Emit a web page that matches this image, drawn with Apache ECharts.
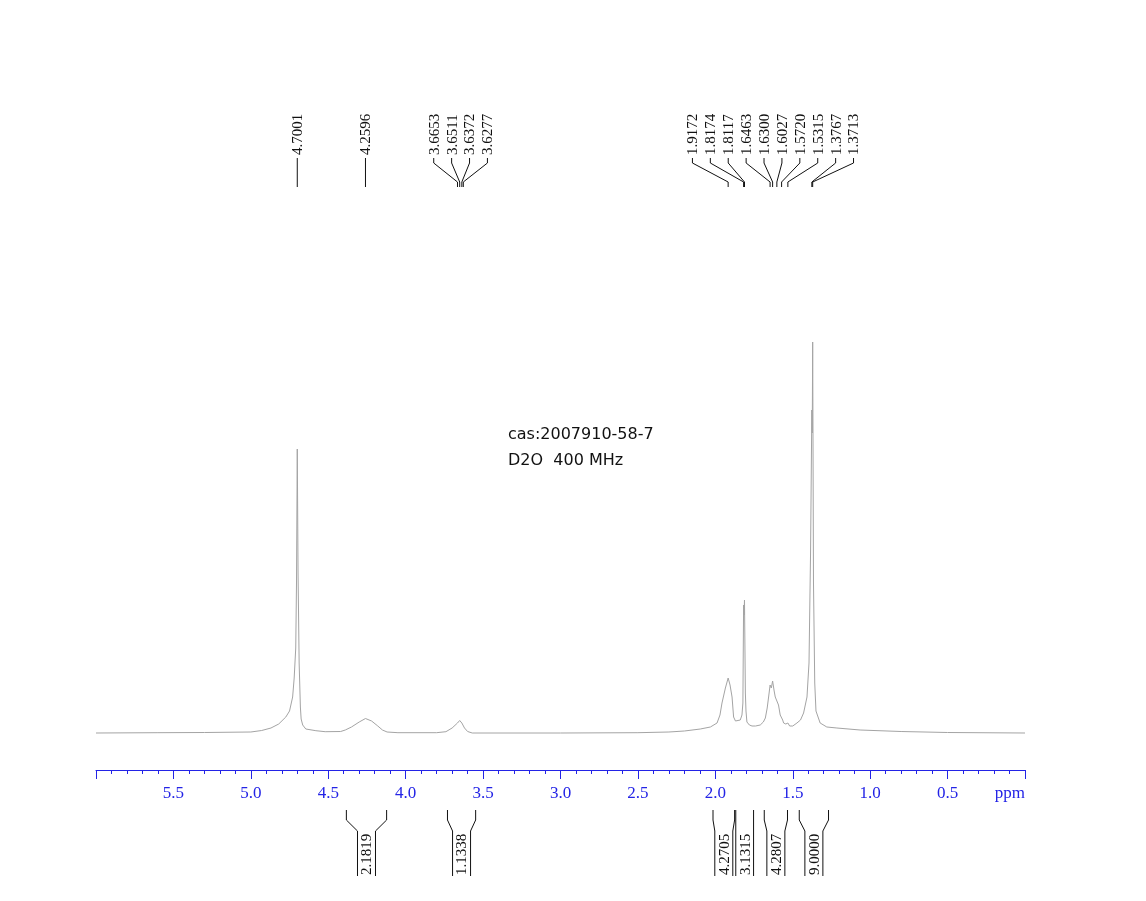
<!DOCTYPE html>
<html><head><meta charset="utf-8">
<script src="https://cdn.jsdelivr.net/npm/echarts@6/dist/echarts.min.js"></script>
<style>html,body{margin:0;padding:0;background:#fff}#c{width:1146px;height:901px}</style>
</head><body><div id="c"></div>
<script>
// ---- data ----
const spectrumPpm = [6.00,5.60,5.30,5.00,4.93,4.87,4.82,4.774,4.75,4.73,4.72,4.71,4.705,4.7001,4.695,4.688,4.68,4.675,4.665,4.645,4.58,4.52,4.42,4.39,4.35,4.30,4.2596,4.22,4.18,4.15,4.12,4.05,3.80,3.74,3.70,3.6653,3.6511,3.6372,3.62,3.60,3.57,3.00,2.50,2.30,2.20,2.097,2.032,1.989,1.970,1.957,1.935,1.9172,1.905,1.892,1.882,1.870,1.860,1.839,1.828,1.822,1.8174,1.8145,1.8117,1.806,1.802,1.796,1.780,1.763,1.740,1.710,1.690,1.677,1.665,1.656,1.6463,1.6385,1.6300,1.620,1.613,1.6027,1.592,1.581,1.5720,1.565,1.559,1.545,1.5315,1.520,1.500,1.473,1.450,1.430,1.408,1.395,1.385,1.3767,1.3740,1.3713,1.366,1.358,1.350,1.344,1.323,1.280,1.215,1.065,0.80,0.50,0.00];
const spectrumIntensity = [0,0.3,0.5,1,2.5,5,9,16,22,36,55,85,150,284,160,70,26,14,8,4,2.3,1.3,1.5,3,6,11,14.5,12,7,3,1,0.3,0.3,1.3,5,10,12.5,10,5,1.5,0,0,0.3,1,2,4,6,10,18,30,45,55,48,36,16,12,11,13,18,30,128,118,133,40,22,11,8,7,7,8,11,15,25,36,48,45,52,42,36,37,28,18,19,13,10,9,10,7,7,10,13,20,36,70,180,323,300,391,150,50,22,20,10,6,5,3,1.5,0.5,0];
const peakLabels = [4.7001,4.2596,3.6653,3.6511,3.6372,3.6277,1.9172,1.8174,1.8117,1.6463,1.6300,1.6027,1.5720,1.5315,1.3767,1.3713];
const integralFrom = [4.383,3.730,2.015,1.868,1.684,1.458];
const integralTo = [4.123,3.548,1.8755,1.753,1.534,1.269];
const integralValues = ['2.1819','1.1338','4.2705','3.1315','4.2807','9.0000'];
const tickLabels = ['5.5','5.0','4.5','4.0','3.5','3.0','2.5','2.0','1.5','1.0','0.5'];
const unitLabel = 'ppm';
const infoLines = ['cas:2007910-58-7','D2O  400 MHz'];

const AXIS = '#2323e6';
const SERIF = '"Liberation Serif","Times New Roman",serif';

const chart = echarts.init(document.getElementById('c'));
chart.setOption({
  animation:false,
  backgroundColor:'#fff',
  grid:{left:96,right:121,top:70,bottom:131},
  xAxis:{
    type:'value',min:0,max:6,interval:0.5,inverse:true,
    axisLine:{onZero:false,lineStyle:{color:AXIS,width:1}},
    axisTick:{length:9,lineStyle:{color:AXIS,width:1}},
    minorTick:{show:true,splitNumber:5,length:4,lineStyle:{color:AXIS,width:1}},
    splitLine:{show:false},minorSplitLine:{show:false},
    axisLabel:{color:AXIS,fontFamily:SERIF,fontSize:17,margin:15,
      formatter:v=>{const s=v.toFixed(1);return tickLabels.indexOf(s)>=0?s:'';}}
  },
  yAxis:{type:'value',min:-37,max:663,show:false},
  series:[{type:'line',symbol:'none',silent:true,
    data:spectrumPpm.map((p,i)=>[p,spectrumIntensity[i]]),
    lineStyle:{color:'#a4a4a4',width:1}}]
});

const px = p => chart.convertToPixel({xAxisIndex:0}, p);
const g = [];
// info text
infoLines.forEach((t,i)=>g.push({type:'text',x:508,y:435+i*26,style:{text:t,fontFamily:'"DejaVu Sans",sans-serif',fontSize:16,fill:'#111',align:'left',verticalAlign:'middle'}}));
// unit
g.push({type:'text',x:px(0),y:785,style:{text:unitLabel,fontFamily:SERIF,fontSize:17,fill:AXIS,align:'right',verticalAlign:'top'}});

// peak label layout
const SP = 17.9;
let items = peakLabels.map(p=>({p,x:px(p)})).sort((a,b)=>a.x-b.x);
let groups = items.map(it=>({items:[it],center:it.x}));
let merged = true;
while(merged){merged=false;
  for(let i=0;i<groups.length-1;i++){
    const a=groups[i],b=groups[i+1];
    const ar=a.center+(a.items.length-1)*SP/2, bl=b.center-(b.items.length-1)*SP/2;
    if(bl-ar<SP){const all=a.items.concat(b.items);
      groups.splice(i,2,{items:all,center:all.reduce((s,t)=>s+t.x,0)/all.length});merged=true;break;}
  }
}
groups.forEach(gr=>{const n=gr.items.length;
  gr.items.forEach((it,k)=>{const lx=gr.center+(k-(n-1)/2)*SP;
    g.push({type:'polyline',shape:{points:[[lx,158],[lx,163],[it.x,182],[it.x,187]]},style:{stroke:'#111',lineWidth:1,fill:null}});
    g.push({type:'text',x:lx+1,y:155,rotation:Math.PI/2,style:{text:it.p.toFixed(4),fontFamily:SERIF,fontSize:15,fill:'#111',align:'left',verticalAlign:'middle'}});
  });
});

// integrals
integralFrom.forEach((f,i)=>{
  const xa=px(f),xb=px(integralTo[i]);
  const cx=(xa+xb)/2,half=Math.min((xb-xa)/2,9);
  g.push({type:'polyline',shape:{points:[[xa,810],[xa,820],[cx-half,831],[cx-half,876]]},style:{stroke:'#111',lineWidth:1,fill:null}});
  g.push({type:'polyline',shape:{points:[[xb,810],[xb,820],[cx+half,831],[cx+half,876]]},style:{stroke:'#111',lineWidth:1,fill:null}});
  g.push({type:'text',x:cx+1,y:875,rotation:Math.PI/2,style:{text:integralValues[i],fontFamily:SERIF,fontSize:15,fill:'#111',align:'left',verticalAlign:'middle'}});
});
chart.setOption({graphic:g});
</script></body></html>
